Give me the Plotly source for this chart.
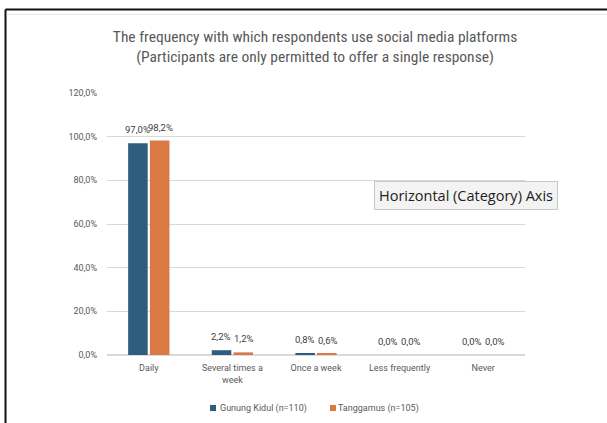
import plotly.graph_objects as go

categories = ["Daily", "Several times a<br>week", "Once a week", "Less frequently", "Never"]
gunung_kidul = [97.0, 2.2, 0.8, 0.0, 0.0]
tanggamus = [98.2, 1.2, 0.6, 0.0, 0.0]
series_names = ["Gunung Kidul (n=110)", "Tanggamus (n=105)"]
tick_vals = [0, 20, 40, 60, 80, 100, 120]
tick_text = ["0,0%", "20,0%", "40,0%", "60,0%", "80,0%", "100,0%", "120,0%"]
title_text = ("The frequency with which respondents use social media platforms<br>"
              "(Participants are only permitted to offer a single response)")
tooltip_text = "Horizontal (Category) Axis"

colors = ["#2E5D7F", "#D97A44"]
narrow = "Liberation Sans Narrow, Roboto Condensed, Arial Narrow, Roboto, sans-serif"
regular = "Roboto, Liberation Sans, Arial, sans-serif"


def fmt(v):
    return f"{v:.1f}%".replace(".", ",")


fig = go.Figure()
series = [gunung_kidul, tanggamus]
for name, vals, col in zip(series_names, series, colors):
    fig.add_trace(go.Bar(
        x=categories, y=vals, name=name,
        marker=dict(color=col, line=dict(width=0)),
        showlegend=False, hoverinfo="skip",
    ))

# data labels
offsets = [-11.5, 11.5]
for vals, dx in zip(series, offsets):
    for c, v in zip(categories, vals):
        fig.add_annotation(x=c, y=v, xref="x", yref="y", text=fmt(v), showarrow=False,
                           xshift=dx, yshift=6, yanchor="bottom", xanchor="center",
                           font=dict(size=9.5, color="#404040", family=regular))

fig.update_layout(
    width=607, height=423,
    paper_bgcolor="white", plot_bgcolor="white",
    margin=dict(l=107, r=82, t=93, b=68),
    barmode="group", bargap=0.48, bargroupgap=0.1,
    title=dict(text=title_text, x=0.519, xanchor="center", y=0.9, yanchor="middle",
               font=dict(size=15.5, color="#595959", family=narrow)),
    font=dict(family=regular, color="#595959", size=9),
    showlegend=False,
    yaxis=dict(range=[0, 120], tickvals=tick_vals, ticktext=tick_text,
               showgrid=True, gridcolor="#D9D9D9", gridwidth=1,
               zeroline=True, zerolinecolor="#D9D9D9", showline=False,
               ticks="", ticklabelstandoff=9,
               tickfont=dict(size=9, color="#595959", family=regular)),
    xaxis=dict(showgrid=False, showline=False, ticks="", ticklabelstandoff=6,
               tickfont=dict(size=9, color="#595959", family=regular)),
)

# legend (drawn manually to match small square keys)
legend_sq = [(0.2464, 0.2608), (0.5335, 0.5478)]
legend_tx = [0.2656, 0.5490]
for name, col, (x0, x1), tx in zip(series_names, colors, legend_sq, legend_tx):
    fig.add_shape(type="rect", xref="paper", yref="paper", x0=x0, x1=x1,
                  y0=-0.1908, y1=-0.2137, fillcolor=col, line=dict(width=0))
    fig.add_annotation(xref="paper", yref="paper", x=tx, y=-0.2023, text=name,
                       showarrow=False, xanchor="left", yanchor="middle",
                       font=dict(size=9, color="#595959", family=regular))

# tooltip box (screenshot artefact)
fig.add_annotation(xref="paper", yref="paper", x=0.859, y=0.609,
                   xanchor="center", yanchor="middle",
                   text=tooltip_text, showarrow=False,
                   font=dict(size=14.5, color="#222222", family="Open Sans, DejaVu Sans, sans-serif"),
                   bgcolor="#F3F3F3", bordercolor="#C8C8C8", borderwidth=1, borderpad=4)

# screenshot frame lines
fig.add_shape(type="line", xref="paper", yref="paper", x0=-0.2428, x1=1.2, y0=1.3187, y1=1.3187,
              line=dict(color="#111111", width=2))
fig.add_shape(type="line", xref="paper", yref="paper", x0=-0.2428, x1=-0.2428, y0=1.3187, y1=-0.27,
              line=dict(color="#111111", width=2))
fig.add_shape(type="line", xref="paper", yref="paper", x0=-0.24, x1=1.2, y0=1.30, y1=1.30,
              line=dict(color="#E6E6E6", width=1))

fig.write_html("out.html", config={"displayModeBar": False},
               post_script="document.body.style.margin='0px';")
